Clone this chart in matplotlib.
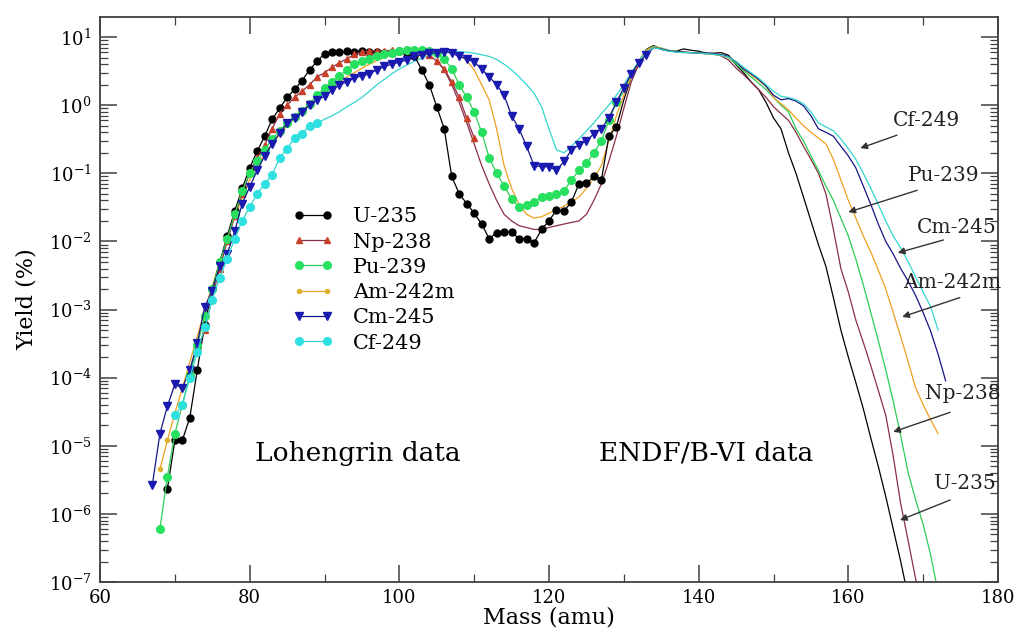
import numpy as np
import matplotlib
matplotlib.use("Agg")
import matplotlib.pyplot as plt
from matplotlib.ticker import LogLocator, MultipleLocator, NullFormatter

plt.rcParams['font.family'] = ['DejaVu Serif']
plt.rcParams['mathtext.fontset'] = 'dejavuserif'

# ---------------- data (yield in %) ----------------
# Lohengrin data (markers)
u235_lo_A = np.arange(69, 130)
u235_lo_Y = [2.3e-6, 1.2e-5, 1.2e-5, 2.6e-5, 1.3e-4,
             6e-4, 2e-3, 5e-3, 0.012, 0.028, 0.06, 0.12, 0.21, 0.35, 0.62,
             0.9, 1.3, 1.7, 2.3, 3.3, 4.4, 5.7, 6.1, 6.0, 6.2,
             6.0, 6.3, 6.1, 6.0, 5.9, 5.9, 6.2, 5.8, 5.3, 3.3,
             2.0, 0.95, 0.45, 0.09, 0.05, 0.036, 0.026, 0.018, 0.011, 0.0135,
             0.0138, 0.0138, 0.011, 0.011, 0.0095, 0.015, 0.02, 0.029, 0.028, 0.038,
             0.07, 0.071, 0.09, 0.08, 0.35, 0.48]

np238_lo_A = np.arange(74, 111)
np238_lo_Y = [5e-4, 1.5e-3, 4e-3, 0.01, 0.024, 0.05, 0.1, 0.17, 0.26, 0.45,
              0.75, 1.0, 1.3, 1.6, 2.0, 2.6, 3.0, 3.6, 4.2, 4.8,
              5.6, 6.1, 6.2, 6.3, 6.3, 6.4, 6.3, 6.4, 6.2, 6.0,
              5.5, 4.4, 3.4, 2.2, 1.3, 0.65, 0.33]

pu239_lo_A = np.arange(68, 130)
pu239_lo_Y = [6e-7, 3.5e-6, 1.5e-5, 4e-5, 1.1e-4, 3e-4, 8e-4, 2e-3, 5e-3, 0.011,
              0.025, 0.055, 0.1, 0.15, 0.22, 0.32, 0.42, 0.55, 0.67, 0.82,
              1.05, 1.4, 1.8, 2.2, 2.7, 3.3, 4.0, 4.4, 4.8, 5.2,
              5.6, 5.9, 6.2, 6.4, 6.5, 6.4, 6.3, 5.8, 4.8, 3.4,
              2.0, 1.3, 0.8, 0.4, 0.17, 0.1, 0.065, 0.042, 0.032, 0.034,
              0.038, 0.045, 0.046, 0.05, 0.055, 0.08, 0.11, 0.14, 0.2, 0.3,
              0.6, 1.1]

am242m_lo_A = np.arange(68, 72)
am242m_lo_Y = [4.5e-6, 1.2e-5, 3e-5, 7e-5]

cm245_lo_A = np.arange(67, 134)
cm245_lo_Y = [2.7e-6, 1.5e-5, 3.8e-5, 8e-5, 7e-5, 1.3e-4, 3.2e-4, 1.1e-3, 1.9e-3, 4.3e-3,
              6.6e-3, 0.014, 0.036, 0.063, 0.11, 0.18, 0.27, 0.39, 0.54, 0.65,
              0.8, 1.0, 1.2, 1.35, 1.65, 2.0, 2.2, 2.5, 2.7, 2.9,
              3.3, 3.7, 4.0, 4.3, 4.6, 5.2, 5.5, 5.75, 5.9, 6.1,
              5.8, 5.2, 4.8, 4.3, 3.4, 2.6, 2.0, 1.4, 0.7, 0.45,
              0.25, 0.13, 0.125, 0.125, 0.11, 0.15, 0.22, 0.26, 0.3, 0.38,
              0.45, 0.65, 1.1, 1.8, 2.9, 4.2, 5.5]

cf249_lo_A = np.arange(70, 90)
cf249_lo_Y = [2.8e-5, 4e-5, 1e-4, 2.4e-4, 5.5e-4, 1.4e-3, 2.9e-3, 5.6e-3, 0.011, 0.02,
              0.032, 0.05, 0.07, 0.095, 0.17, 0.23, 0.33, 0.38, 0.5, 0.55]

# ENDF/B-VI data (lines only)
u235_endf_A = np.arange(129, 170)
u235_endf_Y = [0.48, 1.2, 2.6, 4.3, 6.6, 7.5, 6.6, 6.3, 6.2, 6.7,
               6.4, 6.2, 5.8, 5.8, 5.9, 5.4, 3.9, 3.0, 2.2, 1.7,
               1.1, 0.65, 0.45, 0.2, 0.1, 0.045, 0.02, 9e-3, 4.3e-3, 1.5e-3,
               5e-4, 2e-4, 8.5e-5, 3.5e-5, 1.3e-5, 5e-6, 1.8e-6, 6e-7, 2e-7, 6e-8,
               2e-8]

np238_endf_A = np.arange(105, 171)
np238_endf_Y = [4.5, 3.3, 2.0, 1.1, 0.55, 0.27, 0.13, 0.07, 0.04, 0.025,
                0.02, 0.017, 0.016, 0.015, 0.015, 0.016, 0.017, 0.018, 0.019, 0.02,
                0.025, 0.04, 0.07, 0.15, 0.35, 0.9, 2.2, 4.0, 6.3, 7.2,
                6.6, 6.2, 6.1, 6.0, 5.9, 5.8, 5.7, 5.6, 5.3, 4.6,
                3.5, 2.8, 2.2, 1.7, 1.3, 0.95, 0.75, 0.6, 0.4, 0.25,
                0.16, 0.1, 0.05, 0.015, 4e-3, 1.8e-3, 7e-4, 3.3e-4, 1.5e-4, 6.5e-5,
                2.8e-5, 7e-6, 1.4e-6, 4e-7, 1.1e-7, 4e-8]

pu239_endf_A = np.arange(129, 173)
pu239_endf_Y = [1.1, 1.6, 2.8, 4.4, 6.5, 7.3, 6.9, 6.4, 6.2, 6.0,
                5.9, 5.8, 5.7, 5.6, 5.4, 5.0, 4.0, 3.2, 2.6, 2.1,
                1.7, 1.3, 1.0, 0.8, 0.45, 0.3, 0.18, 0.11, 0.065, 0.04,
                0.022, 0.012, 5.5e-3, 2.3e-3, 9e-4, 3.5e-4, 1.3e-4, 4.5e-5, 1.4e-5, 4e-6,
                1.6e-6, 7e-7, 2.5e-7, 7e-8]

am242m_endf_A = np.arange(71, 173)
am242m_endf_Y = [7e-5, 1.7e-4, 4e-4, 1e-3, 2.2e-3, 5e-3, 0.011, 0.022, 0.045,
                 0.08, 0.13, 0.19, 0.27, 0.37, 0.5, 0.65, 0.82, 1.0, 1.25,
                 1.5, 1.85, 2.2, 2.6, 3.0, 3.5, 4.0, 4.5, 5.0, 5.5,
                 5.9, 6.2, 6.4, 6.4, 6.4, 6.3, 6.2, 6.0, 5.5, 4.5,
                 3.3, 2.0, 1.2, 0.45, 0.13, 0.06, 0.035, 0.025, 0.022, 0.023,
                 0.026, 0.029, 0.033, 0.038, 0.045, 0.06, 0.085, 0.13, 0.3, 0.7,
                 1.4, 2.6, 4.3, 6.4, 7.2, 6.8, 6.3, 6.1, 6.0, 5.9,
                 5.8, 5.7, 5.6, 5.4, 5.1, 4.3, 3.4, 2.8, 2.3, 1.9,
                 1.3, 1.05, 0.85, 0.65, 0.5, 0.4, 0.33, 0.27, 0.16, 0.08,
                 0.04, 0.022, 0.012, 7e-3, 3.8e-3, 2e-3, 9e-4, 4e-4, 1.7e-4, 7e-5,
                 4e-5, 2.4e-5, 1.5e-5]

cm245_endf_A = np.arange(133, 174)
cm245_endf_Y = [5.5, 7.0, 6.7, 6.3, 6.1, 6.0, 5.9, 5.8, 5.8, 5.7,
                5.5, 5.2, 4.3, 3.4, 2.9, 2.4, 1.9, 1.4, 1.2, 1.25,
                1.15, 0.98, 0.7, 0.45, 0.4, 0.35, 0.25, 0.18, 0.12, 0.065,
                0.035, 0.018, 0.01, 6.5e-3, 4e-3, 2.6e-3, 1.6e-3, 9e-4, 4.8e-4, 2.2e-4,
                9e-5]

cf249_endf_A = np.arange(89, 173)
cf249_endf_Y = [0.55, 0.62, 0.7, 0.8, 0.95, 1.1, 1.3, 1.6, 2.0, 2.4,
                2.9, 3.4, 3.9, 4.4, 4.9, 5.3, 5.7, 6.0, 6.1, 6.1,
                6.0, 5.8, 5.5, 5.2, 4.7, 4.0, 3.3, 2.6, 2.0, 1.5,
                0.95, 0.45, 0.22, 0.2, 0.25, 0.32, 0.42, 0.55, 0.75, 1.0,
                1.4, 2.0, 3.0, 4.4, 6.0, 7.0, 6.6, 6.2, 6.0, 5.9,
                5.9, 5.8, 5.7, 5.6, 5.4, 5.1, 4.4, 3.6, 3.0, 2.5,
                2.0, 1.6, 1.35, 1.3, 1.2, 1.05, 0.8, 0.55, 0.48, 0.42,
                0.32, 0.23, 0.16, 0.1, 0.06, 0.035, 0.02, 0.012, 8e-3, 5e-3,
                3e-3, 1.8e-3, 1.1e-3, 5e-4]

labels = ['U-235', 'Np-238', 'Pu-239', 'Am-242m', 'Cm-245', 'Cf-249']
arrow_labels = ['Cf-249', 'Pu-239', 'Cm-245', 'Am-242m', 'Np-238', 'U-235']

# ---------------- styling ----------------
line_colors = ['#000000', '#8b2f45', '#2ecc55', '#f0a020', '#151585', '#33d6cc']
mark_colors = ['#000000', '#c8402a', '#28e060', '#e0b030', '#1a1ab0', '#2fe0e0']
markers = ['o', '^', 'o', 'o', 'v', 'o']
msizes = [5, 5, 5.5, 3, 5.5, 5.5]

lo_sets = [(u235_lo_A, u235_lo_Y), (np238_lo_A, np238_lo_Y), (pu239_lo_A, pu239_lo_Y),
           (am242m_lo_A, am242m_lo_Y), (cm245_lo_A, cm245_lo_Y), (cf249_lo_A, cf249_lo_Y)]
endf_sets = [(u235_endf_A, u235_endf_Y), (np238_endf_A, np238_endf_Y),
             (pu239_endf_A, pu239_endf_Y), (am242m_endf_A, am242m_endf_Y),
             (cm245_endf_A, cm245_endf_Y), (cf249_endf_A, cf249_endf_Y)]

fig = plt.figure(figsize=(10.31, 6.37), dpi=100)
ax = fig.add_axes([0.097, 0.0863, 0.871, 0.887])

for (A, Y), c in zip(endf_sets, line_colors):
    ax.plot(A, Y, '-', color=c, lw=0.9, zorder=2)

handles = []
for (A, Y), lc, mc, mk, ms, lab in zip(lo_sets, line_colors, mark_colors, markers, msizes, labels):
    h, = ax.plot(A, Y, '-', color=lc, lw=0.9, marker=mk, ms=ms, mfc=mc, mec=mc,
                 label=lab, zorder=3)
    handles.append(h)

ax.set_yscale('log')
ax.set_xlim(60, 180)
ax.set_ylim(1e-7, 19.7)

ax.xaxis.set_major_locator(MultipleLocator(20))
ax.xaxis.set_minor_locator(MultipleLocator(10))
ax.xaxis.set_minor_formatter(NullFormatter())
ax.yaxis.set_major_locator(LogLocator(base=10, numticks=20))
ax.yaxis.set_minor_locator(LogLocator(base=10, subs=np.arange(2, 10), numticks=100))
ax.yaxis.set_minor_formatter(NullFormatter())

ax.tick_params(which='both', direction='in', top=True, right=True, color='#404040')
ax.tick_params(which='major', length=12, width=1.1, labelsize=13, pad=6)
ax.tick_params(which='minor', length=6, width=0.9)
ax.tick_params(axis='x', which='major', pad=5)
for s in ax.spines.values():
    s.set_color('#404040')
    s.set_linewidth(1.3)

ax.set_xlabel('Mass (amu)', fontsize=16, labelpad=0)
ax.set_ylabel('Yield (%)', fontsize=16, labelpad=8)

ax.legend(handles=handles, loc='upper left', bbox_to_anchor=(0.205, 0.678),
          frameon=False, fontsize=15, handlelength=1.95, handletextpad=0.95,
          labelspacing=0.3, borderaxespad=0, numpoints=2)

ax.text(94.5, 10**-5.11, 'Lohengrin data', fontsize=19, ha='center', va='center')
ax.text(141.0, 10**-5.11, 'ENDF/B-VI data', fontsize=19, ha='center', va='center')

# arrow annotations: (text x, text y, tail x, tail y, tip x, tip y)
arrow_pos = [(170.5, 0.604, 166.5, 0.363, 161.6, 0.234),
             (172.7, 0.093, 169.2, 0.0563, 160.0, 0.0269),
             (174.5, 0.0162, 172.7, 0.0105, 166.6, 6.8e-3),
             (173.9, 2.5e-3, 174.9, 1.5e-3, 167.2, 7.8e-4),
             (175.3, 5.9e-5, 173.6, 3.1e-5, 166.0, 1.6e-5),
             (175.6, 2.8e-6, 173.6, 1.6e-6, 166.9, 8.1e-7)]
for lab, (tx, ty, ax0, ay0, ax1, ay1) in zip(arrow_labels, arrow_pos):
    ax.text(tx, ty, lab, fontsize=14.5, ha='center', va='center', color='#222222',
            clip_on=False, zorder=5)
    ax.annotate('', xy=(ax1, ay1), xytext=(ax0, ay0),
                arrowprops=dict(arrowstyle='-|>', color='#333333', lw=1.0,
                                mutation_scale=10, shrinkA=0, shrinkB=0), zorder=5)

fig.savefig('out.png', dpi=100, facecolor='white')
